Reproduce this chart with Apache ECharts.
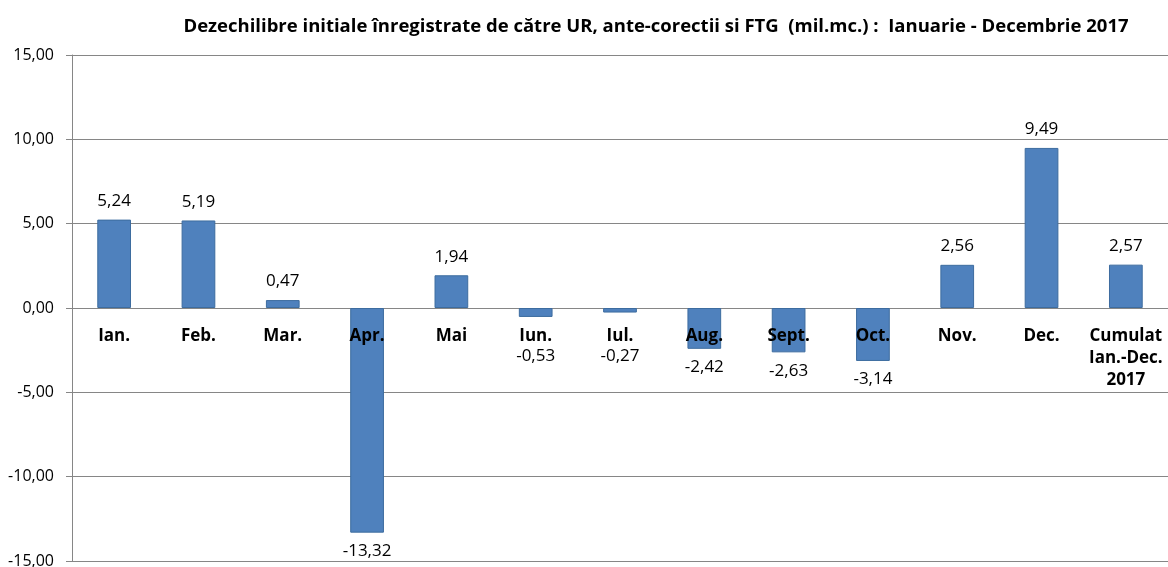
<!DOCTYPE html>
<html>
<head>
<meta charset="utf-8">
<script src="https://cdn.jsdelivr.net/npm/echarts@6/dist/echarts.min.js"></script>
<style>html,body{margin:0;padding:0;background:#fff}#c{width:1168px;height:567px}</style>
</head>
<body>
<div id="c"></div>
<script>
const titleText = 'Dezechilibre initiale înregistrate de către UR, ante-corectii si FTG  (mil.mc.) :  Ianuarie - Decembrie 2017';
const categories = ['Ian.', 'Feb.', 'Mar.', 'Apr.', 'Mai', 'Iun.', 'Iul.', 'Aug.', 'Sept.', 'Oct.', 'Nov.', 'Dec.', 'Cumulat\nIan.-Dec.\n2017'];
const values = [5.24, 5.19, 0.47, -13.32, 1.94, -0.53, -0.27, -2.42, -2.63, -3.14, 2.56, 9.49, 2.57];
const yMin = -15, yMax = 15, yStep = 5;

const fmt = v => v.toFixed(2).replace('.', ',');
const FONT = 'Open Sans';

const chart = echarts.init(document.getElementById('c'));
chart.setOption({
  animation: false,
  backgroundColor: '#fff',
  title: {
    text: titleText,
    left: 651, top: 12, textAlign: 'center',
    textStyle: {fontFamily: FONT, fontWeight: 'bold', fontSize: 18.5, color: '#000'}
  },
  grid: {left: 72, right: 0, top: 55, bottom: 6, containLabel: false, outerBoundsMode: 'none'},
  xAxis: {
    type: 'category',
    data: categories,
    position: 'bottom',
    offset: 0,
    z: 5,
    axisLine: {show: false, onZero: false},
    axisTick: {show: false},
    axisLabel: {
      show: true, interval: 0, margin: 17, fontFamily: FONT, fontWeight: 'bold', fontSize: 17,
      color: '#000', lineHeight: 22, verticalAlign: 'top', hideOverlap: false
    }
  },
  yAxis: {
    type: 'value', min: yMin, max: yMax, interval: yStep,
    axisLine: {show: true, lineStyle: {color: '#868686'}},
    axisTick: {show: true, length: 6, lineStyle: {color: '#868686'}},
    splitLine: {show: true, lineStyle: {color: '#868686', width: 1}},
    axisLabel: {formatter: fmt, fontFamily: FONT, fontSize: 16, color: '#000', margin: 18}
  },
  series: [{
    type: 'bar',
    data: values,
    barWidth: '40%',
    itemStyle: {color: '#4F81BD', borderColor: '#3D6C9F', borderWidth: 1},
    label: {
      show: true, position: 'top', distance: 10,
      formatter: p => fmt(p.value),
      fontFamily: FONT, fontSize: 17, color: '#000'
    },
    labelLayout: function (p) {
      if (values[p.dataIndex] >= 0) return {};
      const r = p.rect;
      const bottom = r.y + r.height;
      const top = Math.max(bottom + 10, r.y + 40);
      return {x: r.x + r.width / 2, y: top, align: 'center', verticalAlign: 'top'};
    }
  }]
});
// move the category axis up to the zero line, using the library's own value scale
const zeroY = chart.convertToPixel({yAxisIndex: 0}, 0);
const minY = chart.convertToPixel({yAxisIndex: 0}, yMin);
chart.setOption({xAxis: {offset: -(minY - zeroY)}});
</script>
</body>
</html>
